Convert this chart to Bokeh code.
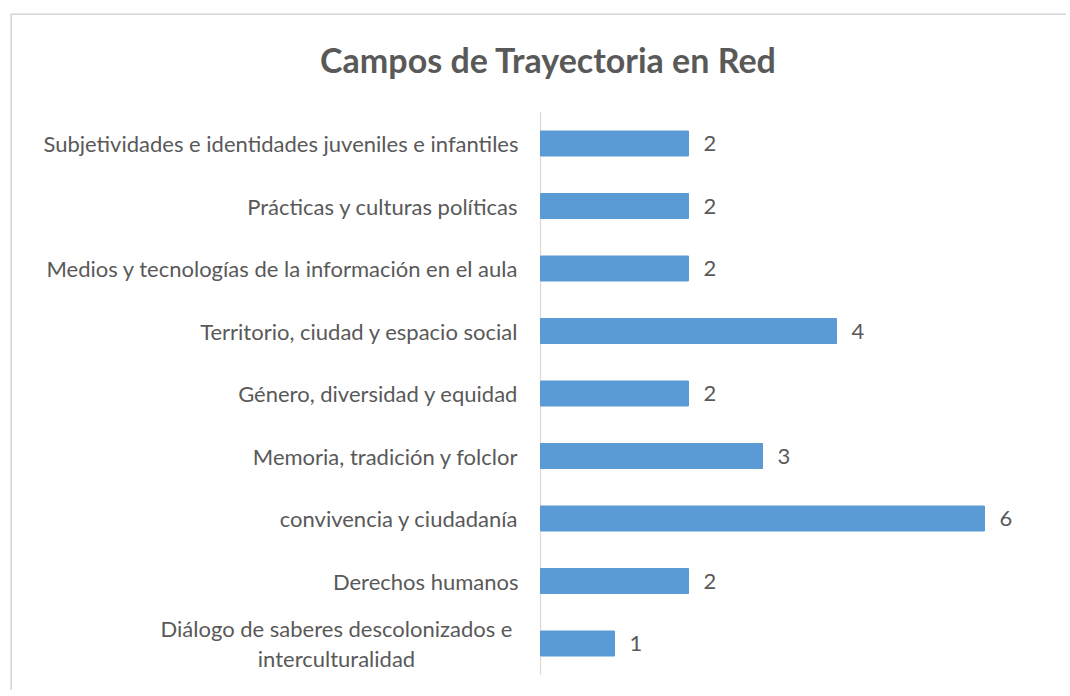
from bokeh.plotting import figure
from bokeh.models import ColumnDataSource, Range1d, Label, Span
from bokeh.core.properties import value
from bokeh.embed import file_html
from bokeh.resources import INLINE

# ---- data (top to bottom as shown) ----
categories = [
    "Subjetividades e identidades juveniles e infantiles",
    "Prácticas y culturas políticas",
    "Medios y tecnologías de la información en el aula",
    "Territorio, ciudad y espacio social",
    "Género, diversidad y equidad",
    "Memoria, tradición y folclor",
    "convivencia y ciudadanía",
    "Derechos humanos",
    "Diálogo de saberes descolonizados e\ninterculturalidad",
]
values = [2, 2, 2, 4, 2, 3, 6, 2, 1]
title_text = "Campos de Trayectoria en Red"

# ---- styling ----
FONT = "Lato"
TXT = "#595959"
BAR = "#5B9BD5"
LBL_SIZE = "22px"

n = len(categories)
idx = [n - 1 - i for i in range(n)]  # top item highest

single = [i for i, c in enumerate(categories) if "\n" not in c]
multi = [i for i, c in enumerate(categories) if "\n" in c]

src = ColumnDataSource(dict(
    y=idx, v=values, vt=[str(v) for v in values], cat=categories,
))
src_single = ColumnDataSource(dict(
    y=[idx[i] for i in single], cat=[categories[i] for i in single],
))
src_multi = ColumnDataSource(dict(
    y=[idx[i] for i in multi], cat=[categories[i] for i in multi],
))

px_per_unit = 74.0
axis_px = 530.0      # axis position from frame left
fig_w = 1066
frame_w = float(fig_w - 10)
frame_top = 13.0
frame_bottom = 690.0
first_row = 643.0    # page y of lowest category
row_px = 62.5

p = figure(
    width=fig_w, height=690,
    x_range=Range1d(-axis_px / px_per_unit, (frame_w - axis_px) / px_per_unit),
    y_range=Range1d(-(frame_bottom - first_row) / row_px, (first_row - frame_top) / row_px),
    x_axis_type=None, y_axis_type=None,
    toolbar_location=None, output_backend="svg",
    min_border_left=10, min_border_top=13, min_border_right=0, min_border_bottom=0,
)
p.grid.visible = False
p.outline_line_color = None
p.background_fill_color = "white"
p.border_fill_color = "white"

# chart-area border (top and left edges, as visible in the reference)
p.add_layout(Span(location=p.x_range.start, dimension="height",
                  line_color="#d4d4d4", line_width=3))
p.add_layout(Span(location=p.y_range.end, dimension="width",
                  line_color="#d4d4d4", line_width=3))

# axis line
p.segment(x0=0, y0=-0.5, x1=0, y1=n - 0.5, line_color="#d9d9d9", line_width=1.2)

# bars
p.hbar(y="y", left=0, right="v", height=0.4, source=src,
       fill_color=BAR, line_color=BAR)

# value labels
p.text(x="v", y="y", text="vt", source=src, x_offset=15,
       text_align="left", text_baseline="middle",
       text_font=value(FONT), text_font_size=LBL_SIZE, text_color=TXT)

# category labels
p.text(x=0, y="y", text="cat", source=src_single, x_offset=-22,
       text_align="right", text_baseline="middle",
       text_font=value(FONT), text_font_size=LBL_SIZE, text_color=TXT)
p.text(x=0, y="y", text="cat", source=src_multi, x_offset=-204,
       text_align="center", text_baseline="middle", text_line_height=1.1,
       text_font=value(FONT), text_font_size=LBL_SIZE, text_color=TXT)

# title
p.add_layout(Label(x=8 / px_per_unit, y=(first_row - 59) / row_px, text=title_text,
                   text_align="center", text_baseline="middle",
                   text_font=FONT, text_font_size="34px", text_font_style="bold",
                   text_color=TXT))

open("out.html", "w").write(file_html(p, INLINE))
